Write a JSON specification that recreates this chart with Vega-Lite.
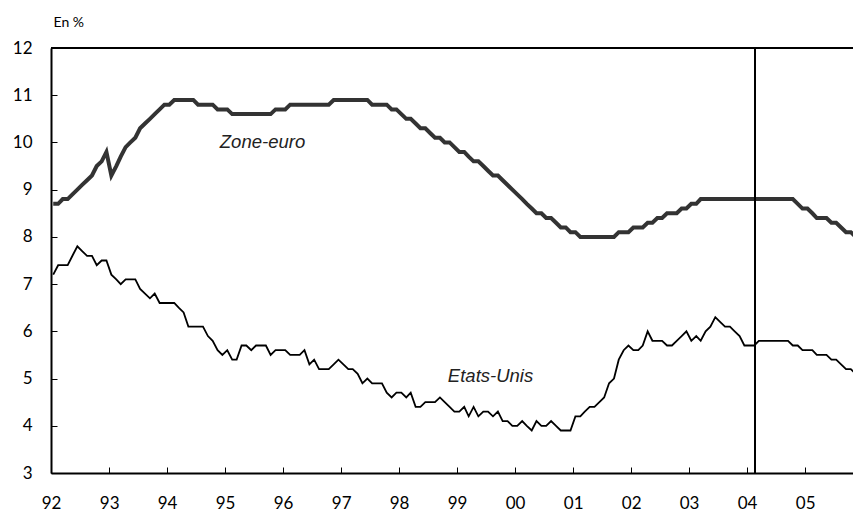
{
  "$schema": "https://vega.github.io/schema/vega-lite/v6.json",
  "width": 802,
  "height": 425,
  "autosize": "none",
  "padding": {"left": 51, "top": 48, "right": 0, "bottom": 39},
  "background": "white",
  "config": {"view": {"stroke": null}, "font": "Lato"},
  "data": {"values": [
    {"d":"1992-01-15","eu":8.7,"us":7.2},{"d":"1992-02-15","eu":8.7,"us":7.4},{"d":"1992-03-15","eu":8.8,"us":7.4},{"d":"1992-04-15","eu":8.8,"us":7.4},{"d":"1992-05-15","eu":8.9,"us":7.6},{"d":"1992-06-15","eu":9.0,"us":7.8},{"d":"1992-07-15","eu":9.1,"us":7.7},{"d":"1992-08-15","eu":9.2,"us":7.6},{"d":"1992-09-15","eu":9.3,"us":7.6},{"d":"1992-10-15","eu":9.5,"us":7.4},{"d":"1992-11-15","eu":9.6,"us":7.5},{"d":"1992-12-15","eu":9.8,"us":7.5},
    {"d":"1993-01-15","eu":9.3,"us":7.2},{"d":"1993-02-15","eu":9.5,"us":7.1},{"d":"1993-03-15","eu":9.7,"us":7.0},{"d":"1993-04-15","eu":9.9,"us":7.1},{"d":"1993-05-15","eu":10.0,"us":7.1},{"d":"1993-06-15","eu":10.1,"us":7.1},{"d":"1993-07-15","eu":10.3,"us":6.9},{"d":"1993-08-15","eu":10.4,"us":6.8},{"d":"1993-09-15","eu":10.5,"us":6.7},{"d":"1993-10-15","eu":10.6,"us":6.8},{"d":"1993-11-15","eu":10.7,"us":6.6},{"d":"1993-12-15","eu":10.8,"us":6.6},
    {"d":"1994-01-15","eu":10.8,"us":6.6},{"d":"1994-02-15","eu":10.9,"us":6.6},{"d":"1994-03-15","eu":10.9,"us":6.5},{"d":"1994-04-15","eu":10.9,"us":6.4},{"d":"1994-05-15","eu":10.9,"us":6.1},{"d":"1994-06-15","eu":10.9,"us":6.1},{"d":"1994-07-15","eu":10.8,"us":6.1},{"d":"1994-08-15","eu":10.8,"us":6.1},{"d":"1994-09-15","eu":10.8,"us":5.9},{"d":"1994-10-15","eu":10.8,"us":5.8},{"d":"1994-11-15","eu":10.7,"us":5.6},{"d":"1994-12-15","eu":10.7,"us":5.5},
    {"d":"1995-01-15","eu":10.7,"us":5.6},{"d":"1995-02-15","eu":10.6,"us":5.4},{"d":"1995-03-15","eu":10.6,"us":5.4},{"d":"1995-04-15","eu":10.6,"us":5.7},{"d":"1995-05-15","eu":10.6,"us":5.7},{"d":"1995-06-15","eu":10.6,"us":5.6},{"d":"1995-07-15","eu":10.6,"us":5.7},{"d":"1995-08-15","eu":10.6,"us":5.7},{"d":"1995-09-15","eu":10.6,"us":5.7},{"d":"1995-10-15","eu":10.6,"us":5.5},{"d":"1995-11-15","eu":10.7,"us":5.6},{"d":"1995-12-15","eu":10.7,"us":5.6},
    {"d":"1996-01-15","eu":10.7,"us":5.6},{"d":"1996-02-15","eu":10.8,"us":5.5},{"d":"1996-03-15","eu":10.8,"us":5.5},{"d":"1996-04-15","eu":10.8,"us":5.5},{"d":"1996-05-15","eu":10.8,"us":5.6},{"d":"1996-06-15","eu":10.8,"us":5.3},{"d":"1996-07-15","eu":10.8,"us":5.4},{"d":"1996-08-15","eu":10.8,"us":5.2},{"d":"1996-09-15","eu":10.8,"us":5.2},{"d":"1996-10-15","eu":10.8,"us":5.2},{"d":"1996-11-15","eu":10.9,"us":5.3},{"d":"1996-12-15","eu":10.9,"us":5.4},
    {"d":"1997-01-15","eu":10.9,"us":5.3},{"d":"1997-02-15","eu":10.9,"us":5.2},{"d":"1997-03-15","eu":10.9,"us":5.2},{"d":"1997-04-15","eu":10.9,"us":5.1},{"d":"1997-05-15","eu":10.9,"us":4.9},{"d":"1997-06-15","eu":10.9,"us":5.0},{"d":"1997-07-15","eu":10.8,"us":4.9},{"d":"1997-08-15","eu":10.8,"us":4.9},{"d":"1997-09-15","eu":10.8,"us":4.9},{"d":"1997-10-15","eu":10.8,"us":4.7},{"d":"1997-11-15","eu":10.7,"us":4.6},{"d":"1997-12-15","eu":10.7,"us":4.7},
    {"d":"1998-01-15","eu":10.6,"us":4.7},{"d":"1998-02-15","eu":10.5,"us":4.6},{"d":"1998-03-15","eu":10.5,"us":4.7},{"d":"1998-04-15","eu":10.4,"us":4.4},{"d":"1998-05-15","eu":10.3,"us":4.4},{"d":"1998-06-15","eu":10.3,"us":4.5},{"d":"1998-07-15","eu":10.2,"us":4.5},{"d":"1998-08-15","eu":10.1,"us":4.5},{"d":"1998-09-15","eu":10.1,"us":4.6},{"d":"1998-10-15","eu":10.0,"us":4.5},{"d":"1998-11-15","eu":10.0,"us":4.4},{"d":"1998-12-15","eu":9.9,"us":4.3},
    {"d":"1999-01-15","eu":9.8,"us":4.3},{"d":"1999-02-15","eu":9.8,"us":4.4},{"d":"1999-03-15","eu":9.7,"us":4.2},{"d":"1999-04-15","eu":9.6,"us":4.4},{"d":"1999-05-15","eu":9.6,"us":4.2},{"d":"1999-06-15","eu":9.5,"us":4.3},{"d":"1999-07-15","eu":9.4,"us":4.3},{"d":"1999-08-15","eu":9.3,"us":4.2},{"d":"1999-09-15","eu":9.3,"us":4.3},{"d":"1999-10-15","eu":9.2,"us":4.1},{"d":"1999-11-15","eu":9.1,"us":4.1},{"d":"1999-12-15","eu":9.0,"us":4.0},
    {"d":"2000-01-15","eu":8.9,"us":4.0},{"d":"2000-02-15","eu":8.8,"us":4.1},{"d":"2000-03-15","eu":8.7,"us":4.0},{"d":"2000-04-15","eu":8.6,"us":3.9},{"d":"2000-05-15","eu":8.5,"us":4.1},{"d":"2000-06-15","eu":8.5,"us":4.0},{"d":"2000-07-15","eu":8.4,"us":4.0},{"d":"2000-08-15","eu":8.4,"us":4.1},{"d":"2000-09-15","eu":8.3,"us":4.0},{"d":"2000-10-15","eu":8.2,"us":3.9},{"d":"2000-11-15","eu":8.2,"us":3.9},{"d":"2000-12-15","eu":8.1,"us":3.9},
    {"d":"2001-01-15","eu":8.1,"us":4.2},{"d":"2001-02-15","eu":8.0,"us":4.2},{"d":"2001-03-15","eu":8.0,"us":4.3},{"d":"2001-04-15","eu":8.0,"us":4.4},{"d":"2001-05-15","eu":8.0,"us":4.4},{"d":"2001-06-15","eu":8.0,"us":4.5},{"d":"2001-07-15","eu":8.0,"us":4.6},{"d":"2001-08-15","eu":8.0,"us":4.9},{"d":"2001-09-15","eu":8.0,"us":5.0},{"d":"2001-10-15","eu":8.1,"us":5.4},{"d":"2001-11-15","eu":8.1,"us":5.6},{"d":"2001-12-15","eu":8.1,"us":5.7},
    {"d":"2002-01-15","eu":8.2,"us":5.6},{"d":"2002-02-15","eu":8.2,"us":5.6},{"d":"2002-03-15","eu":8.2,"us":5.7},{"d":"2002-04-15","eu":8.3,"us":6.0},{"d":"2002-05-15","eu":8.3,"us":5.8},{"d":"2002-06-15","eu":8.4,"us":5.8},{"d":"2002-07-15","eu":8.4,"us":5.8},{"d":"2002-08-15","eu":8.5,"us":5.7},{"d":"2002-09-15","eu":8.5,"us":5.7},{"d":"2002-10-15","eu":8.5,"us":5.8},{"d":"2002-11-15","eu":8.6,"us":5.9},{"d":"2002-12-15","eu":8.6,"us":6.0},
    {"d":"2003-01-15","eu":8.7,"us":5.8},{"d":"2003-02-15","eu":8.7,"us":5.9},{"d":"2003-03-15","eu":8.8,"us":5.8},{"d":"2003-04-15","eu":8.8,"us":6.0},{"d":"2003-05-15","eu":8.8,"us":6.1},{"d":"2003-06-15","eu":8.8,"us":6.3},{"d":"2003-07-15","eu":8.8,"us":6.2},{"d":"2003-08-15","eu":8.8,"us":6.1},{"d":"2003-09-15","eu":8.8,"us":6.1},{"d":"2003-10-15","eu":8.8,"us":6.0},{"d":"2003-11-15","eu":8.8,"us":5.9},{"d":"2003-12-15","eu":8.8,"us":5.7},
    {"d":"2004-01-15","eu":8.8,"us":5.7},{"d":"2004-02-15","eu":8.8,"us":5.7},{"d":"2004-03-15","eu":8.8,"us":5.8},{"d":"2004-04-15","eu":8.8,"us":5.8},{"d":"2004-05-15","eu":8.8,"us":5.8},{"d":"2004-06-15","eu":8.8,"us":5.8},{"d":"2004-07-15","eu":8.8,"us":5.8},{"d":"2004-08-15","eu":8.8,"us":5.8},{"d":"2004-09-15","eu":8.8,"us":5.8},{"d":"2004-10-15","eu":8.8,"us":5.7},{"d":"2004-11-15","eu":8.7,"us":5.7},{"d":"2004-12-15","eu":8.6,"us":5.6},
    {"d":"2005-01-15","eu":8.6,"us":5.6},{"d":"2005-02-15","eu":8.5,"us":5.6},{"d":"2005-03-15","eu":8.4,"us":5.5},{"d":"2005-04-15","eu":8.4,"us":5.5},{"d":"2005-05-15","eu":8.4,"us":5.5},{"d":"2005-06-15","eu":8.3,"us":5.4},{"d":"2005-07-15","eu":8.3,"us":5.4},{"d":"2005-08-15","eu":8.2,"us":5.3},{"d":"2005-09-15","eu":8.1,"us":5.2},{"d":"2005-10-15","eu":8.1,"us":5.2},{"d":"2005-11-15","eu":8.0,"us":5.1}
  ]},
  "layer": [
    {
      "mark": {"type": "line", "color": "#333333", "strokeWidth": 4, "clip": true, "strokeJoin": "miter"},
      "encoding": {
        "x": {
          "field": "d", "type": "temporal",
          "scale": {"domain": [{"year": 1992, "month": 1, "date": 1}, {"year": 2005, "month": 10, "date": 29}]},
          "axis": {
            "format": "%y", "tickCount": {"interval": "year", "step": 1}, "title": null, "grid": false,
            "labelFontSize": 17, "labelColor": "black", "labelFont": "Lato", "labelFlush": false, "labelOverlap": false,
            "labelBaseline": "middle", "labelPadding": 36,
            "tickSize": -6, "tickColor": "black", "tickWidth": 1,
            "domainColor": "black", "domainWidth": 2
          }
        },
        "y": {
          "field": "eu", "type": "quantitative",
          "scale": {"domain": [3, 12], "nice": false, "zero": false},
          "axis": {
            "values": [3, 4, 5, 6, 7, 8, 9, 10, 11, 12], "grid": false,
            "labelFontSize": 17, "labelColor": "black", "labelFont": "Lato", "labelPadding": 25,
            "tickSize": -6, "tickColor": "black", "tickWidth": 1,
            "domainColor": "black", "domainWidth": 2,
            "title": "En %", "titleAngle": 0, "titleX": 2, "titleY": -26,
            "titleAlign": "left", "titleBaseline": "middle", "titleFontSize": 14,
            "titleFontWeight": "normal", "titleFont": "Lato", "titleColor": "black"
          }
        }
      }
    },
    {
      "mark": {"type": "line", "color": "black", "strokeWidth": 1.8, "clip": true},
      "encoding": {
        "x": {"field": "d", "type": "temporal"},
        "y": {"field": "us", "type": "quantitative"}
      }
    },
    {
      "mark": {"type": "rule", "color": "black", "strokeWidth": 2},
      "encoding": {"y": {"datum": 12}}
    },
    {
      "mark": {"type": "rule", "color": "black", "strokeWidth": 1.2},
      "encoding": {"x": {"datum": {"year": 2004, "month": 2, "date": 20}}}
    },
    {
      "data": {"values": [
        {"d": "1994-11-29", "v": 10.0, "label": "Zone-euro"},
        {"d": "1998-11-04", "v": 5.06, "label": "Etats-Unis"}
      ]},
      "mark": {"type": "text", "align": "left", "baseline": "middle", "fontStyle": "italic", "fontSize": 18.5, "font": "Liberation Sans", "color": "#222222"},
      "encoding": {
        "x": {"field": "d", "type": "temporal"},
        "y": {"field": "v", "type": "quantitative"},
        "text": {"field": "label"}
      }
    }
  ]
}
